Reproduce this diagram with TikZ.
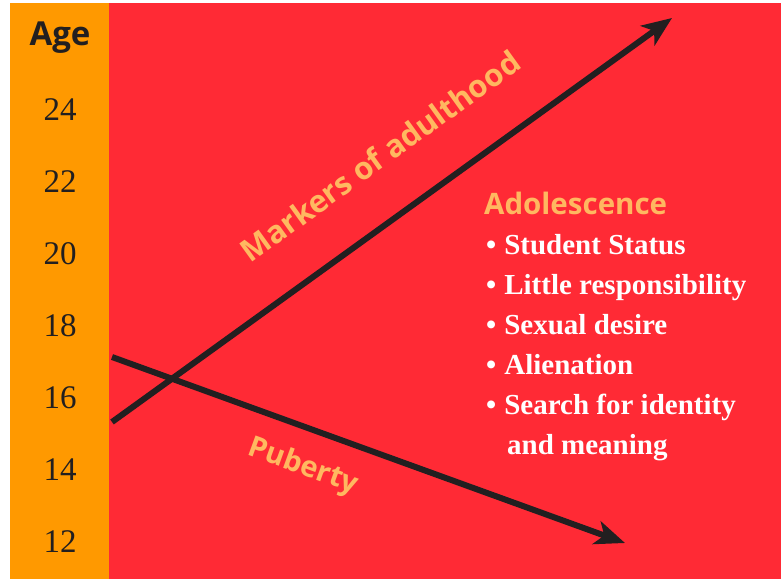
\documentclass[tikz,border=0pt]{standalone}
\usepackage{fontspec}
\setmainfont{Liberation Serif}
\setsansfont{Open Sans}
\usetikzlibrary{arrows.meta}
\definecolor{agebar}{RGB}{255,153,0}
\definecolor{stage}{RGB}{255,42,53}
\definecolor{peach}{RGB}{255,184,96}
\definecolor{ink}{RGB}{34,31,32}

\tikzset{
  trend/.style={line width=6pt, draw=ink, -{Stealth[length=30pt, width=24pt, inset=8pt]}},
  agelabel/.style={text=ink, font=\fontsize{33}{33}\selectfont},
  slopelabel/.style={text=peach, font=\sffamily\bfseries\fontsize{31}{31}\selectfont},
  itemlabel/.style={text=white, anchor=base west, inner sep=0pt, font=\bfseries\fontsize{29}{29}\selectfont}
}

\begin{document}
\begin{tikzpicture}[x=1pt, y=-1pt]
\useasboundingbox (0,0) rectangle (781,579);
% age column and stage area
\fill[agebar] (10,3) rectangle (109,579);
\fill[stage] (109,3) rectangle (781,579);

\node[text=ink, font=\sffamily\bfseries\fontsize{33}{33}\selectfont] (age) at (60,38) {Age};
\foreach \a [count=\i from 0] in {24,22,20,18,16,14,12}
  \node[agelabel] (age\a) at (60,110+72*\i) {\a};

% the two trends
\coordinate (adult start) at (112,422);
\coordinate (adult end) at (672,18);
\coordinate (puberty start) at (112,357);
\coordinate (puberty end) at (625,543);
\draw[trend] (adult start) -- (adult end);
\draw[trend] (puberty start) -- (puberty end);

\node[slopelabel, rotate=35.8] (markers) at (380,156) {Markers of adulthood};
\node[slopelabel, rotate=-20, font=\sffamily\bfseries\fontsize{29}{29}\selectfont] (puberty) at (303,467) {Puberty};

% adolescence list
\node[text=peach, font=\sffamily\bfseries\fontsize{29.5}{29.5}\selectfont, anchor=base west, inner sep=0pt] (adol) at (484,214) {Adolescence};
\foreach \t [count=\i from 0] in {Student Status, Little responsibility, Sexual desire, Alienation, Search for identity}
  \node[itemlabel] (item\i) at (486,254+40*\i) {\textbullet\hspace{8pt}\t};
\node[itemlabel] (item5) at (507,454) {and meaning};
\end{tikzpicture}
\end{document}
